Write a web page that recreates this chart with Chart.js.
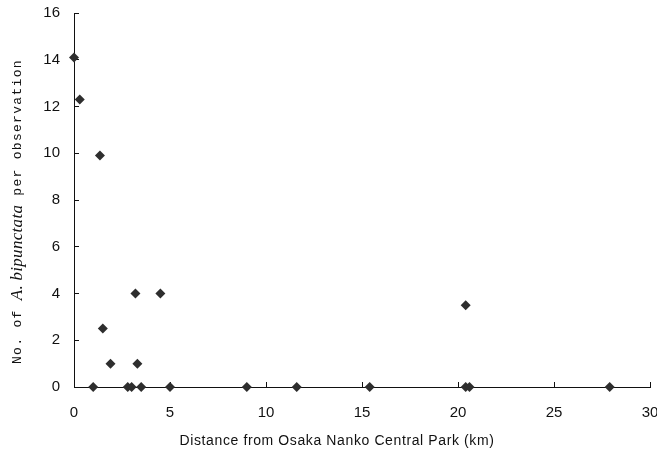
<!DOCTYPE html>
<html>
<head>
<meta charset="utf-8">
<script src="https://cdn.jsdelivr.net/npm/chart.js@4.4.1/dist/chart.umd.min.js"></script>
<style>
  html, body { margin: 0; padding: 0; background: #fff; }
</style>
</head>
<body>
<canvas id="chart" width="657" height="454"></canvas>
<script>
// distance from the park (km) and mean count per observation, one entry per site
var distanceKm  = [0, 0.3, 1.35, 1.5, 1.9, 3.2, 4.5, 3.3, 1.0, 2.8, 3.0, 3.5, 5.0, 9.0, 11.6, 15.4, 20.4, 20.4, 20.6, 27.9];
var countPerObs = [14.1, 12.3, 9.9, 2.5, 1.0, 4.0, 4.0, 1.0, 0, 0, 0, 0, 0, 0, 0, 0, 3.5, 0, 0, 0];

var xTickValues = [0, 5, 10, 15, 20, 25, 30];
var yTickValues = [0, 2, 4, 6, 8, 10, 12, 14, 16];

var xTitle = 'Distance from Osaka Nanko Central Park (km)';
var yTitleRuns = [
  { text: 'No. of ', italic: false },
  { text: 'A. bipunctata', italic: true },
  { text: ' per observation', italic: false }
];

var INK = '#111';
var SANS = '"Liberation Sans", Arial, sans-serif';
var MONO = '"Liberation Mono", "DejaVu Sans Mono", monospace';

// axis titles: the y one mixes an italic species name into plain text,
// which a single Chart.js title can't do, so both are drawn here
var axisTitles = {
  id: 'axisTitles',
  afterDraw: function (chart) {
    var ctx = chart.ctx;
    ctx.save();
    ctx.fillStyle = INK;
    ctx.textBaseline = 'middle';

    // x title: stretch slightly so it spans the same width as the original
    ctx.font = '14px ' + SANS;
    ctx.textAlign = 'center';
    var w = ctx.measureText(xTitle).width;
    ctx.letterSpacing = ((315 - w) / xTitle.length).toFixed(2) + 'px';
    ctx.fillText(xTitle, 337, 441);

    ctx.textAlign = 'left';
    ctx.translate(18, 364);
    ctx.rotate(-Math.PI / 2);
    var x = 0;
    yTitleRuns.forEach(function (run) {
      if (run.italic) {
        ctx.font = 'italic 17px "Liberation Serif", "DejaVu Serif", serif';
        ctx.letterSpacing = '0.3px';
      } else {
        ctx.font = '13px ' + MONO;
        ctx.letterSpacing = '1.3px';
      }
      ctx.fillText(run.text, x, 0);
      x += ctx.measureText(run.text).width;
    });
    ctx.restore();
  }
};

function useTicks(values) {
  return function (scale) {
    scale.ticks = values.map(function (v) { return { value: v }; });
  };
}

// pin the plot box: no extra room reserved for label overhang
function pinBox(size, key) {
  return function (scale) {
    scale[key] = size;
    scale.paddingLeft = scale.paddingRight = 0;
    scale.paddingTop = scale.paddingBottom = 0;
  };
}

var axisGrid = { drawOnChartArea: false, drawTicks: true, tickLength: -5, color: INK, lineWidth: 1 };
var axisBorder = { display: true, color: INK, width: 1 };
var tickFont = { family: SANS, size: 15 };

new Chart(document.getElementById('chart'), {
  type: 'scatter',
  data: {
    datasets: [{
      data: distanceKm.map(function (d, i) { return { x: d, y: countPerObs[i] }; }),
      pointStyle: 'rectRot',
      pointRadius: 5,
      pointHoverRadius: 5,
      backgroundColor: '#2e2e2e',
      borderColor: '#2e2e2e',
      borderWidth: 0,
      clip: false
    }]
  },
  options: {
    responsive: false,
    animation: false,
    events: [],
    layout: { padding: { top: 13, right: 7, left: 0, bottom: 0 } },
    plugins: { legend: { display: false }, tooltip: { enabled: false } },
    scales: {
      x: {
        type: 'linear',
        min: 0,
        max: 30,
        afterBuildTicks: useTicks(xTickValues),
        afterFit: pinBox(67, 'height'),
        grid: axisGrid,
        border: axisBorder,
        ticks: { color: INK, font: tickFont, padding: 22, maxRotation: 0, autoSkip: false }
      },
      y: {
        type: 'linear',
        min: 0,
        max: 16,
        afterBuildTicks: useTicks(yTickValues),
        afterFit: pinBox(74, 'width'),
        grid: axisGrid,
        border: axisBorder,
        ticks: { color: INK, font: tickFont, padding: 19, autoSkip: false }
      }
    }
  },
  plugins: [axisTitles]
});
</script>
</body>
</html>
